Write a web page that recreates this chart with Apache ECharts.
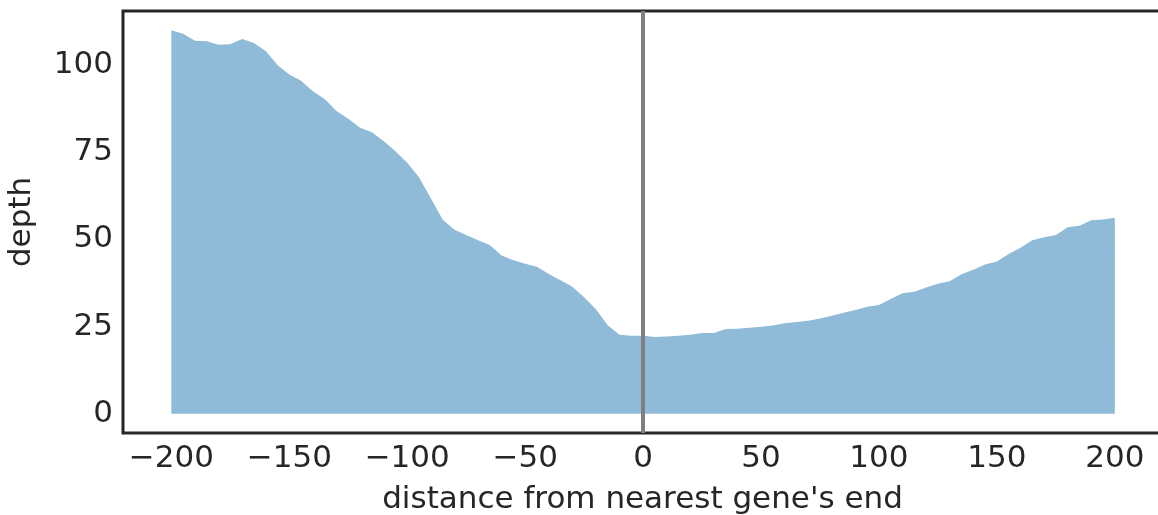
<!DOCTYPE html>
<html>
<head>
<meta charset="utf-8">
<script src="https://cdn.jsdelivr.net/npm/echarts@6/dist/echarts.min.js"></script>
<style>
  html, body { margin: 0; padding: 0; background: #fff; overflow: hidden; }
  #chart { width: 1158px; height: 515px; }
</style>
</head>
<body>
<div id="chart"></div>
<script>
// distance from the gene's end, every 5 bases
var distance = [
  -200, -195, -190, -185, -180, -175, -170, -165, -160, -155,
  -150, -145, -140, -135, -130, -125, -120, -115, -110, -105,
  -100, -95, -90, -85, -80, -75, -70, -65, -60, -55,
  -50, -45, -40, -35, -30, -25, -20, -15, -10, -5,
  0, 5, 10, 15, 20, 25, 30, 35, 40, 45,
  50, 55, 60, 65, 70, 75, 80, 85, 90, 95,
  100, 105, 110, 115, 120, 125, 130, 135, 140, 145,
  150, 155, 160, 165, 170, 175, 180, 185, 190, 195, 200
]
var depth = [
  110, 109, 107, 106.8, 105.8, 106, 107.5, 106.3, 104, 100,
  97.3, 95.5, 92.5, 90.3, 86.8, 84.6, 82, 80.7, 78.2, 75.3,
  72, 67.8, 61.8, 55.7, 52.8, 51.3, 49.8, 48.4, 45.4, 44,
  43, 42.2, 40.1, 38.3, 36.4, 33.4, 30, 25.4, 22.7, 22.4,
  22.4, 22, 22.2, 22.4, 22.7, 23.2, 23.2, 24.3, 24.4, 24.7,
  25, 25.3, 26, 26.3, 26.7, 27.3, 28.1, 29, 29.8, 30.7,
  31.2, 32.9, 34.6, 35, 36.2, 37.3, 38, 40, 41.3, 42.8,
  43.7, 45.8, 47.6, 49.8, 50.6, 51.3, 53.5, 53.9, 55.5, 55.7, 56.2
]
var xTicks = [-200, -150, -100, -50, 0, 50, 100, 150, 200]
var yTicks = [0, 25, 50, 75, 100]

var textColor = '#262626'
var font = 'DejaVu Sans'

function minusLabel(v) {
  return v < 0 ? '\u2212' + (-v) : String(v)
}

var chart = echarts.init(document.getElementById('chart'))
chart.setOption({
  animation: false,
  textStyle: { fontFamily: font },
  grid: {
    left: 123,
    top: 11,
    width: 1039,
    height: 422,
    outerBoundsMode: 'none',
    containLabel: false,
    show: true,
    borderColor: textColor,
    borderWidth: 3,
    backgroundColor: '#fff'
  },
  xAxis: {
    type: 'value',
    min: -220.5,
    max: 220,
    name: "distance from nearest gene's end",
    nameLocation: 'middle',
    nameGap: 51,
    nameTextStyle: { color: textColor, fontSize: 31, fontFamily: font },
    axisLine: { show: false },
    axisTick: { show: false },
    splitLine: { show: false },
    axisLabel: {
      customValues: xTicks,
      formatter: minusLabel,
      color: textColor,
      fontSize: 31,
      fontFamily: font,
      margin: 10
    }
  },
  yAxis: {
    type: 'value',
    min: -5.5,
    max: 115.5,
    name: 'depth',
    nameLocation: 'middle',
    nameGap: 86,
    nameRotate: 90,
    nameTextStyle: { color: textColor, fontSize: 31, fontFamily: font },
    axisLine: { show: false },
    axisTick: { show: false },
    splitLine: { show: false },
    axisLabel: {
      customValues: yTicks,
      color: textColor,
      fontSize: 31,
      fontFamily: font,
      margin: 10
    }
  },
  series: [{
    type: 'line',
    data: distance.map(function(d, i) { return [d, depth[i]] }),
    showSymbol: false,
    lineStyle: { width: 0 },
    areaStyle: { color: 'rgba(31,119,180,0.5)', opacity: 1, origin: 0 },
    markLine: {
      silent: true,
      symbol: 'none',
      label: { show: false },
      lineStyle: { color: '#808080', width: 4, type: 'solid' },
      data: [{ xAxis: 0 }]
    }
  }]
})
</script>
</body>
</html>
